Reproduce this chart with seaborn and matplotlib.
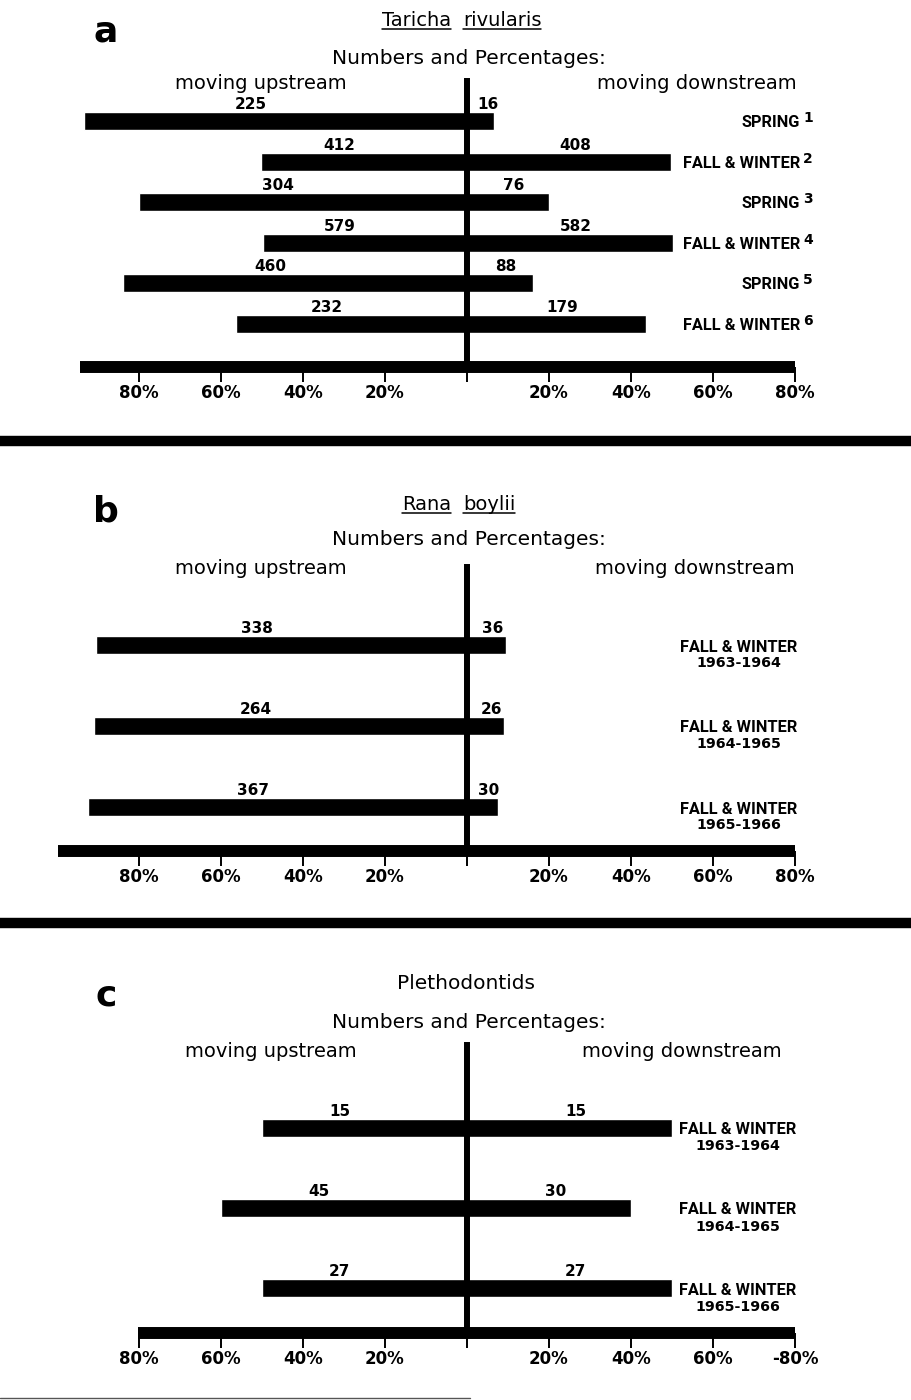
import matplotlib.pyplot as plt
import seaborn as sns
import numpy as np
import pandas as pd
from matplotlib.lines import Line2D

#counts (upstream / downstream)
a_seasons = ['SPRING', 'FALL & WINTER', 'SPRING', 'FALL & WINTER', 'SPRING', 'FALL & WINTER']
a_up = [225, 412, 304, 579, 460, 232]
a_down = [16, 408, 76, 582, 88, 179]

b_season = 'FALL & WINTER'
b_years = ['1963-1964', '1964-1965', '1965-1966']
b_up = [338, 264, 367]
b_down = [36, 26, 30]

c_season = 'FALL & WINTER'
c_years = ['1963-1964', '1964-1965', '1965-1966']
c_up = [15, 45, 27]
c_down = [15, 30, 27]

tick_vals = [-80, -60, -40, -20, 0, 20, 40, 60, 80]
tick_labels = ['80%', '60%', '40%', '20%', '', '20%', '40%', '60%', '80%']
tick_labels_c = ['80%', '60%', '40%', '20%', '', '20%', '40%', '60%', '-80%']

#page geometry in pixels
W, H = 912, 1400
CENTER = 467          # x pixel of the 0% line
PX_PER_PCT = 4.1      # 20% = 82 px
BAR_PX = 18

sns.set_theme(style='ticks')
plt.rcParams['font.family'] = ['DejaVu Sans']
plt.rcParams['text.color'] = 'black'

fig = plt.figure(figsize=(W / 100, H / 100), dpi=100)
fig.patch.set_facecolor('white')


def fx(px):
    return px / W


def fy(py):
    return 1 - py / H


def xpct(px):
    return (px - CENTER) / PX_PER_PCT


#signed percentages from the counts
def make_frame(up, down):
    up = np.array(up, dtype=float)
    down = np.array(down, dtype=float)
    total = up + down
    rows = ['r%d' % i for i in range(len(up))]
    return pd.DataFrame({
        'row': rows * 2,
        'direction': ['upstream'] * len(up) + ['downstream'] * len(up),
        'count': np.concatenate([up, down]).astype(int),
        'pct': np.concatenate([-up / total * 100, down / total * 100]),
    })


def draw_panel(up, down, top, bottom, first_row, step, bar_left, ticklabels):
    df = make_frame(up, down)
    ax = fig.add_axes([0, fy(bottom), 1, (bottom - top) / H])
    sns.barplot(data=df, x='pct', y='row', hue='direction', palette=['black', 'black'],
                dodge=False, orient='h', width=BAR_PX / step, errorbar=None,
                legend=False, saturation=1, ax=ax)
    ax.set_xlim(xpct(0), xpct(W))
    ax.set_ylim((bottom - first_row) / step, (top - first_row) / step)
    ax.set_facecolor('none')
    ax.set_xlabel('')
    ax.set_ylabel('')
    ax.set_yticks([])
    #centre line and the thick axis bar
    ax.spines['top'].set_visible(False)
    ax.spines['right'].set_visible(False)
    ax.spines['left'].set_position(('data', 0))
    ax.spines['left'].set_linewidth(4.3)
    ax.spines['left'].set_color('black')
    ax.spines['bottom'].set_linewidth(8.6)
    ax.spines['bottom'].set_color('black')
    ax.spines['bottom'].set_bounds(xpct(bar_left), 80)
    ax.spines['bottom'].set_capstyle('butt')
    ax.set_xticks(tick_vals, ticklabels)
    ax.tick_params(axis='x', bottom=True, direction='out', length=10.5, width=1.4,
                   pad=2, labelsize=12, colors='black')
    for lab in ax.get_xticklabels():
        lab.set_fontweight('bold')
    #count labels above each bar
    n = len(up)
    for i in range(n):
        p_up = -df['pct'].iloc[i]
        p_dn = df['pct'].iloc[n + i]
        yl = i - (BAR_PX / 2 + 3) / step
        ax.text(-p_up / 2 - 6, yl, str(up[i]), ha='center', va='baseline',
                fontsize=11, fontweight='bold')
        x_dn = max(p_dn / 2, 3.5)
        ax.text(x_dn + 1.5, yl, str(down[i]), ha='center', va='baseline',
                fontsize=11, fontweight='bold')
    return ax


#header texts
def header(letter, letter_y, words, title_y, numbers_y, moving_y, up_x, down_x, underline=True):
    fig.text(fx(106), fy(letter_y), letter, ha='center', va='baseline',
             fontsize=26, fontweight='bold')
    if len(words) == 2:
        t1 = fig.text(fx(451), fy(title_y), words[0], ha='right', va='baseline', fontsize=14)
        t2 = fig.text(fx(463), fy(title_y), words[1], ha='left', va='baseline', fontsize=14)
        titles = [t1, t2]
    else:
        titles = [fig.text(fx(466), fy(title_y), words[0], ha='center', va='baseline', fontsize=14.5)]
    fig.text(fx(469), fy(numbers_y), 'Numbers and Percentages:', ha='center',
             va='baseline', fontsize=14.5)
    fig.text(fx(up_x), fy(moving_y), 'moving upstream', ha='left', va='baseline', fontsize=14)
    fig.text(fx(down_x), fy(moving_y), 'moving downstream', ha='right', va='baseline', fontsize=14)
    return titles if underline else []


to_underline = []

#panel a
ax_a = draw_panel(a_up, a_down, top=81, bottom=367, first_row=121, step=40.6,
                  bar_left=80, ticklabels=tick_labels)
for i, s in enumerate(a_seasons):
    ax_a.text(xpct(800), i + 6 / 40.6, s, ha='right', va='baseline',
              fontsize=11.8, fontweight='bold', family='Roboto')
    ax_a.text(xpct(803), i + 1 / 40.6, str(i + 1), ha='left', va='baseline',
              fontsize=10, fontweight='bold')
to_underline += header('a', 42, ['Taricha', 'rivularis'], 26, 64, 89, 175, 797)

#panel b
ax_b = draw_panel(b_up, b_down, top=567, bottom=851, first_row=645, step=81,
                  bar_left=58, ticklabels=tick_labels)
for i, yr in enumerate(b_years):
    ax_b.text(xpct(739), i + 2 / 81, b_season, ha='center', va='center',
              fontsize=11.8, fontweight='bold', family='Roboto')
    ax_b.text(xpct(739), i + 18 / 81, yr, ha='center', va='center',
              fontsize=10.3, fontweight='bold')
to_underline += header('b', 522, ['Rana', 'boylii'], 510, 545, 574, 175, 795)

#panel c
ax_c = draw_panel(c_up, c_down, top=1045, bottom=1333, first_row=1127.5, step=80.3,
                  bar_left=138, ticklabels=tick_labels_c)
for i, yr in enumerate(c_years):
    ax_c.text(xpct(738), i + 2 / 80.3, c_season, ha='center', va='center',
              fontsize=11.8, fontweight='bold', family='Roboto')
    ax_c.text(xpct(738), i + 19 / 80.3, yr, ha='center', va='center',
              fontsize=10.3, fontweight='bold')
header('c', 1006, ['Plethodontids'], 989, 1028, 1057, 185, 782, underline=False)

#panel separators and bottom rule
for ysep in [441, 923]:
    fig.add_artist(Line2D([0, 1], [fy(ysep), fy(ysep)], lw=7.5, color='black',
                          transform=fig.transFigure))
fig.add_artist(Line2D([0, fx(470)], [fy(1398), fy(1398)], lw=1, color='#555555',
                      transform=fig.transFigure))

#underline the species names
fig.canvas.draw()
renderer = fig.canvas.get_renderer()
for t in to_underline:
    bb = t.get_window_extent(renderer)
    yb = t.get_position()[1] - 3 / H
    fig.add_artist(Line2D([bb.x0 / W, bb.x1 / W], [yb, yb], lw=1.1, color='black',
                          transform=fig.transFigure))

fig.savefig('out.png', dpi=100, facecolor='white')
